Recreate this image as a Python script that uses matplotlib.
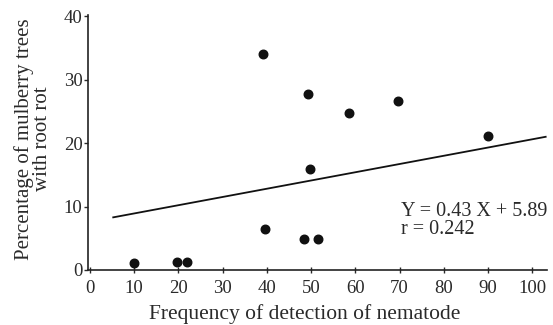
import matplotlib
matplotlib.use("Agg")
import matplotlib.pyplot as plt

# Data
freq = [10, 19.6, 22, 39.2, 39.7, 48.3, 49.2, 49.8, 51.5, 58.6, 69.7, 89.9]
pct = [1.1, 1.2, 1.2, 34.1, 6.4, 4.9, 27.7, 15.9, 4.9, 24.8, 26.6, 21.1]
line_x = [5.3, 103.0]
line_y = [8.3, 21.0]
xticks = [0, 10, 20, 30, 40, 50, 60, 70, 80, 90, 100]
yticks = [0, 10, 20, 30, 40]

plt.rcParams['font.family'] = ['Liberation Serif', 'DejaVu Serif']
txt = '#2a2a2a'

fig = plt.figure(figsize=(5.53, 3.25), dpi=100)
ax = fig.add_axes([88/553, 1 - 270/325, (547-88)/553, (270-15)/325])

ax.scatter(freq, pct, s=38, color='#111111', zorder=3)
ax.plot(line_x, line_y, color='#111111', lw=1.3)

ax.set_xlim(-0.4, 103.3)
ax.set_ylim(0, 40.2)
ax.set_xticks(xticks)
ax.set_yticks(yticks)
ax.tick_params(axis='both', labelsize=13.5, colors=txt, length=3, width=1)
ax.tick_params(axis='x', direction='inout', length=4, pad=5)
ax.tick_params(axis='y', direction='out', pad=1)
for s in ['top', 'right']:
    ax.spines[s].set_visible(False)
for s in ['left', 'bottom']:
    ax.spines[s].set_color('#222222')
    ax.spines[s].set_linewidth(1.2)

ax.set_xlabel('Frequency of detection of nematode', fontsize=15.5, color=txt)
ax.xaxis.set_label_coords((305-88)/459, -(304-270)/255)
ax.set_ylabel('Percentage of mulberry trees\nwith root rot', fontsize=15, color=txt,
              linespacing=0.95)
ax.yaxis.set_label_coords(-(88-52)/459, (270-139)/255)

ax.text(70.3, 9.2, 'Y = 0.43 X + 5.89', fontsize=14.5, color=txt, va='center', ha='left')
ax.text(70.3, 6.4, 'r = 0.242', fontsize=14.5, color=txt, va='center', ha='left')

fig.savefig('out.png', dpi=100)
